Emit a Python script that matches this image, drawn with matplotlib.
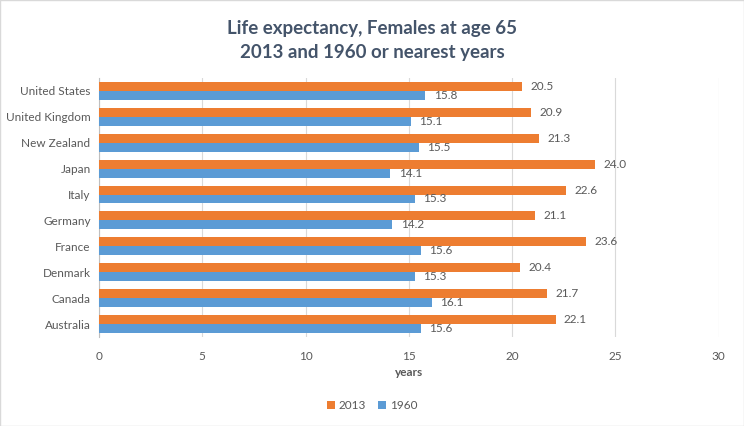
import numpy as np
import matplotlib.pyplot as plt

countries = ["Australia", "Canada", "Denmark", "France", "Germany",
             "Italy", "Japan", "New Zealand", "United Kingdom", "United States"]
y2013 = [22.1, 21.7, 20.4, 23.6, 21.1, 22.6, 24.0, 21.3, 20.9, 20.5]
y1960 = [15.6, 16.1, 15.3, 15.6, 14.2, 15.3, 14.1, 15.5, 15.1, 15.8]

plt.rcParams["font.family"] = ["Lato", "DejaVu Sans"]
orange = "#ED7D31"
blue = "#5B9BD5"
txt = "#595959"

fig = plt.figure(figsize=(7.44, 4.26), dpi=100)
ax = fig.add_axes([0.133, 0.209, 0.833, 0.608])

pos = np.arange(len(countries))
h = 0.345
b1 = ax.barh(pos + h / 2, y2013, height=h, color=orange, label="2013", zorder=3)
b2 = ax.barh(pos - h / 2, y1960, height=h, color=blue, label="1960", zorder=3)

for bars, vals in [(b1, y2013), (b2, y1960)]:
    for bar, v in zip(bars, vals):
        ax.annotate(f"{v:.1f}", (v, bar.get_y() + bar.get_height() / 2),
                    xytext=(6, 0), textcoords="offset points",
                    va="center", ha="left", fontsize=8.5, color=txt)

ax.set_xlim(0, 30)
ax.set_ylim(-0.5, len(countries) - 0.5)
ax.set_xticks(range(0, 31, 5))
ax.set_yticks(pos)
ax.set_yticklabels(countries)
ax.tick_params(axis="both", length=0, labelsize=8.5, colors=txt)
ax.tick_params(axis="x", pad=10)
ax.tick_params(axis="y", pad=6)
ax.grid(axis="x", color="#D9D9D9", linewidth=0.8, zorder=0)
for s in ["top", "right", "bottom"]:
    ax.spines[s].set_visible(False)
ax.spines["left"].set_color("#BFBFBF")

ax.set_xlabel("years", fontsize=8.5, fontweight="bold", color=txt, labelpad=4)

fig.text(0.5, 0.905, "Life expectancy, Females at age 65\n2013 and 1960 or nearest years",
         ha="center", va="center", fontsize=13.5, fontweight="bold",
         color="#44546A", linespacing=1.5)

fig.legend(loc="center", bbox_to_anchor=(0.5, 0.047), ncol=2, frameon=False,
           fontsize=8.5, handlelength=0.7, handleheight=0.7, handletextpad=0.3,
           columnspacing=1.0, labelcolor=txt)

fig.patches.append(plt.Rectangle((0, 0), 1, 1, transform=fig.transFigure,
                                 fill=False, edgecolor="#D9D9D9", linewidth=1))

fig.savefig("out.png", dpi=100)
